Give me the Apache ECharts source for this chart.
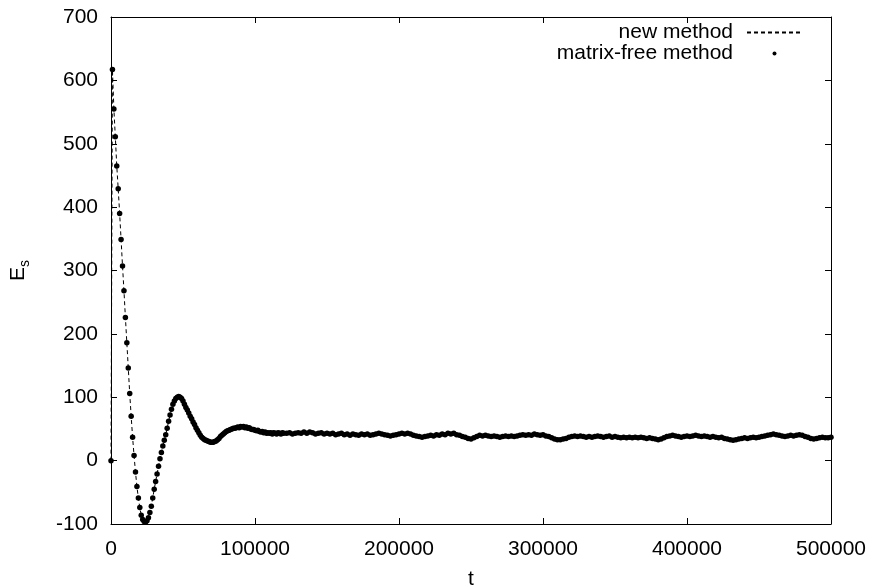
<!DOCTYPE html>
<html>
<head>
<meta charset="utf-8">
<script src="https://cdn.jsdelivr.net/npm/echarts@6/dist/echarts.min.js"></script>
<style>
html,body{margin:0;padding:0;background:#fff;}
#chart{width:870px;height:586px;}
</style>
</head>
<body>
<div id="chart"></div>
<script>
// E_s sampled every 1000 in t, from t = 0 to t = 120000
const esEarly = [
  0, 617, 555, 511, 465, 429, 390, 349, 307, 268,
  226, 186, 146, 106, 70, 37, 8, -18, -41, -59,
  -74, -86, -93, -96, -97, -95, -90, -82, -72, -59,
  -45, -33, -21, -9, 3, 13, 23, 32, 41, 51,
  62, 72, 81, 89, 94, 98, 100, 101, 100, 98,
  94, 89, 84, 80, 75, 70, 66, 61, 57, 52,
  48, 44, 40, 37, 35, 33, 32, 31, 30, 29,
  29, 29, 30, 31, 33, 35, 38, 40, 42, 44,
  46, 47, 48, 49, 50, 51, 51, 52, 53, 52,
  54, 53, 54, 52, 53, 51, 52, 50, 49, 49,
  48, 47, 48, 46, 45, 46, 44, 45, 43, 44,
  43, 44, 42, 44, 43, 42, 44, 43, 42, 44,
  43
];
// E_s sampled every 2000 in t, from t = 122000 to t = 500000
const esLate = [
  43, 44, 42, 43, 44, 43, 45, 43, 45, 44,
  42, 43, 44, 42, 43, 42, 43, 41, 42, 43,
  41, 42, 40, 42, 41, 40, 42, 41, 42, 40,
  41, 42, 43, 42, 41, 40, 39, 40, 41, 42,
  43, 42, 43, 42, 40, 39, 38, 37, 38, 39,
  40, 39, 41, 40, 42, 41, 43, 42, 43, 41,
  40, 38, 37, 35, 34, 36, 38, 40, 39, 40,
  39, 38, 39, 38, 37, 38, 39, 38, 39, 38,
  39, 40, 41, 40, 41, 40, 42, 41, 40, 41,
  39, 38, 36, 34, 33, 33, 34, 35, 37, 38,
  39, 38, 39, 38, 37, 38, 37, 38, 39, 38,
  37, 38, 39, 37, 38, 37, 36, 37, 36, 37,
  36, 37, 36, 37, 36, 35, 36, 35, 34, 33,
  34, 36, 38, 39, 40, 39, 38, 37, 38, 39,
  38, 39, 40, 39, 38, 39, 38, 37, 38, 37,
  36, 37, 35, 34, 33, 32, 33, 34, 35, 36,
  35, 36, 37, 36, 37, 38, 39, 40, 41, 42,
  41, 40, 39, 38, 39, 40, 39, 40, 41, 40,
  38, 37, 35, 34, 35, 36, 37, 36, 36, 37
];
const earlyStart = 0, earlyStep = 1000;
const lateStart = 122000, lateStep = 2000;
const xTicks = [0, 100000, 200000, 300000, 400000, 500000];
const yTicks = [-100, 0, 100, 200, 300, 400, 500, 600, 700];
const seriesNames = ['new method', 'matrix-free method'];

const data = [];
esEarly.forEach((v, i) => data.push([earlyStart + i * earlyStep, v]));
esLate.forEach((v, i) => data.push([lateStart + i * lateStep, v]));

const FONT = 'Liberation Sans, Arial, Helvetica, sans-serif';
const FS = 21;
const black = '#000';
const plain = v => String(v);

const tickStyle = {show: true, inside: true, length: 6, lineStyle: {color: black, width: 1}};
const lineStyleAxis = {show: true, onZero: false, lineStyle: {color: black, width: 1}};

const chart = echarts.init(document.getElementById('chart'), null, {renderer: 'canvas'});
chart.setOption({
  backgroundColor: '#fff',
  animation: false,
  textStyle: {fontFamily: FONT, color: black},
  grid: {left: 111, right: 39, top: 17, bottom: 62, containLabel: false, outerBoundsMode: 'none'},
  legend: {
    orient: 'vertical',
    right: 67,
    top: 22,
    padding: 0,
    itemGap: 0,
    align: 'right',
    itemWidth: 55,
    itemHeight: 5,
    selectedMode: false,
    textStyle: {fontFamily: FONT, fontSize: FS, color: black, lineHeight: 20, padding: [0, 9, 0, 0]},
    data: [
      {name: seriesNames[0], itemStyle: {color: 'rgba(0,0,0,0)', borderWidth: 0}},
      {name: seriesNames[1]}
    ]
  },
  xAxis: [{
    type: 'value',
    min: xTicks[0], max: xTicks[xTicks.length - 1], interval: 100000,
    position: 'bottom',
    name: 't',
    nameLocation: 'middle',
    nameGap: 45,
    nameTextStyle: {fontFamily: FONT, fontSize: FS, color: black},
    axisLine: lineStyleAxis,
    axisTick: tickStyle,
    axisLabel: {fontFamily: FONT, fontSize: FS, color: black, margin: 15, formatter: plain},
    splitLine: {show: false}
  }, {
    type: 'value',
    min: xTicks[0], max: xTicks[xTicks.length - 1], interval: 100000,
    position: 'top',
    axisLine: lineStyleAxis,
    axisTick: tickStyle,
    axisLabel: {show: false},
    splitLine: {show: false}
  }],
  yAxis: [{
    type: 'value',
    min: yTicks[0], max: yTicks[yTicks.length - 1], interval: 100,
    position: 'left',
    name: '{a|E}{b|s}',
    nameLocation: 'middle',
    nameGap: 79,
    nameTextStyle: {
      rich: {
        a: {fontFamily: FONT, fontSize: FS, color: black, lineHeight: 28, verticalAlign: 'middle'},
        b: {fontFamily: FONT, fontSize: 14, color: black, lineHeight: 28, verticalAlign: 'bottom'}
      }
    },
    axisLine: lineStyleAxis,
    axisTick: tickStyle,
    axisLabel: {fontFamily: FONT, fontSize: FS, color: black, margin: 13, formatter: plain},
    splitLine: {show: false}
  }, {
    type: 'value',
    min: yTicks[0], max: yTicks[yTicks.length - 1], interval: 100,
    position: 'right',
    axisLine: lineStyleAxis,
    axisTick: tickStyle,
    axisLabel: {show: false},
    splitLine: {show: false}
  }],
  series: [{
    name: seriesNames[0],
    type: 'line',
    data: data,
    showSymbol: false,
    symbol: 'none',
    lineStyle: {color: black, width: 1, type: [4, 3]},
    itemStyle: {color: black},
    z: 2
  }, {
    name: seriesNames[1],
    type: 'line',
    data: data,
    symbol: 'circle',
    symbolSize: 5.5,
    showSymbol: true,
    lineStyle: {color: black, width: 0, opacity: 0},
    itemStyle: {color: black, borderWidth: 0},
    z: 3
  }]
});
</script>
</body>
</html>
